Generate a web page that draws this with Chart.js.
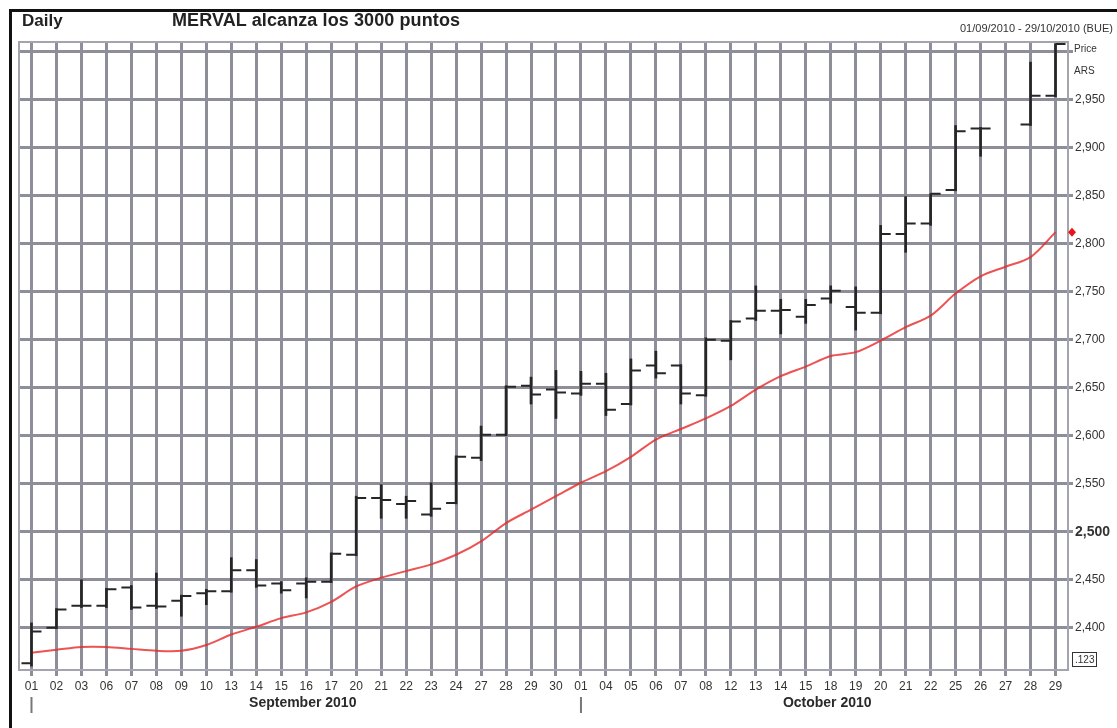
<!DOCTYPE html>
<html>
<head>
<meta charset="utf-8">
<script src="https://cdn.jsdelivr.net/npm/chart.js@4.4.1/dist/chart.umd.min.js"></script>
<style>
  html, body { margin: 0; padding: 0; background: #fff; overflow: hidden; }
  #wrap { position: relative; width: 1117px; height: 728px; overflow: hidden; font-family: 'Liberation Sans', Arial, sans-serif; }
  #frame { position: absolute; left: 9px; top: 9px; right: -5px; bottom: -5px; border-left: 3px solid #111; border-top: 3px solid #111; }
  .txt { position: absolute; white-space: nowrap; color: #222; }
  #daily { left: 22px; top: 11px; font-size: 17px; font-weight: bold; }
  #title { left: 172px; top: 10px; font-size: 18px; font-weight: bold; letter-spacing: 0.1px; }
  #range { left: 960px; top: 22px; font-size: 11px; color: #333; }
  #price { left: 1074px; top: 43px; font-size: 10px; color: #333; }
  #ars { left: 1074px; top: 65px; font-size: 10px; color: #333; }
  #dec { left: 1072px; top: 652px; font-size: 10px; color: #333; border: 1.5px solid #333; padding: 0 2px; line-height: 13px; }
  #chart-box { position: absolute; left: 0; top: 0; width: 1117px; height: 728px; }
</style>
</head>
<body>
<div id="wrap">
  <div id="chart-box"><canvas id="mervalChart"></canvas></div>
  <div id="frame"></div>
  <div class="txt" id="daily">Daily</div>
  <div class="txt" id="title">MERVAL alcanza los 3000 puntos</div>
  <div class="txt" id="range">01/09/2010 - 29/10/2010 (BUE)</div>
  <div class="txt" id="price">Price</div>
  <div class="txt" id="ars">ARS</div>
  <div class="txt" id="dec">.123</div>
</div>
<script>
// trading days, Sept + Oct 2010
const days = ['01','02','03','06','07','08','09','10','13','14','15','16','17','20','21','22','23','24','27','28','29','30',
              '01','04','05','06','07','08','12','13','14','15','18','19','20','21','22','25','26','27','28','29'];
const months = [
    { name: 'September 2010', first: 0, last: 21 },
    { name: 'October 2010', first: 22, last: 41 }
];

// OHLC (27 Oct: no session)
const opens  = [2363,2400,2423,2423,2442,2423,2428,2436,2438,2460,2446,2446,2448,2476,2535,2529,2518,2530,2577,2601,2652,2648,
                2644,2654,2633,2673,2673,2642,2699,2722,2730,2724,2743,2734,2728,2810,2821,2856,2920,null,2924,2954];
const highs  = [2405,2420,2450,2441,2444,2457,2434,2440,2473,2471,2448,2452,2478,2537,2549,2537,2551,2579,2610,2652,2661,2668,
                2667,2665,2680,2688,2674,2702,2720,2756,2742,2742,2756,2755,2819,2849,2852,2923,2921,null,2989,3008];
const lows   = [2360,2399,2421,2421,2419,2420,2412,2424,2437,2442,2436,2431,2447,2475,2514,2514,2516,2529,2574,2600,2633,2618,
                2642,2621,2632,2660,2633,2641,2679,2720,2706,2717,2738,2710,2727,2791,2819,2855,2891,null,2923,2953];
const closes = [2396,2419,2423,2440,2421,2422,2433,2438,2460,2444,2439,2448,2477,2535,2533,2532,2524,2578,2601,2651,2643,2645,
                2654,2627,2668,2665,2644,2700,2719,2730,2731,2736,2751,2728,2810,2821,2852,2917,2920,null,2954,3008];

// red moving average
const movingAvg = [2374,2377,2380,2380,2378,2376,2376,2382,2393,2401,2410,2416,2427,2443,2452,2459,2466,2476,2490,2509,2523,2537,
                   2551,2563,2578,2596,2607,2618,2631,2648,2662,2672,2683,2687,2699,2713,2725,2748,2766,2776,2786,2812];

const yTickValues = [2400,2450,2500,2550,2600,2650,2700,2750,2800,2850,2900,2950,3000];

const gridColor = '#8e8e9b';
const fontFamily = '"Liberation Sans", Arial, sans-serif';

const extras = {
    id: 'extras',
    beforeDatasetsDraw(chart) {
        const { ctx, chartArea: a } = chart;
        ctx.save();
        ctx.strokeStyle = '#a4a4ae';
        ctx.lineWidth = 2;
        ctx.strokeRect(a.left, a.top, a.right - a.left, a.bottom - a.top);
        ctx.restore();
    },
    afterDatasetsDraw(chart) {
        const { ctx, scales: { x, y } } = chart;
        ctx.save();
        ctx.strokeStyle = '#262626';
        ctx.lineWidth = 2;
        ctx.beginPath();
        opens.forEach((o, i) => {
            if (o == null) return;
            const px = x.getPixelForValue(i);
            const po = y.getPixelForValue(o);
            const pc = y.getPixelForValue(closes[i]);
            ctx.moveTo(px - 10, po); ctx.lineTo(px, po);
            ctx.moveTo(px, pc); ctx.lineTo(px + 10, pc);
        });
        ctx.stroke();
        ctx.restore();
    },
    afterDraw(chart) {
        const { ctx, chartArea: a, scales: { x, y } } = chart;
        ctx.save();
        // month captions + markers
        ctx.font = 'bold 14px ' + fontFamily;
        ctx.fillStyle = '#2a2a2a';
        ctx.textAlign = 'center';
        ctx.textBaseline = 'middle';
        ctx.strokeStyle = '#777';
        ctx.lineWidth = 2;
        months.forEach(m => {
            const x0 = x.getPixelForValue(m.first);
            const x1 = x.getPixelForValue(m.last);
            ctx.fillText(m.name, (x0 + x1) / 2 + 9, 703);
            ctx.beginPath();
            ctx.moveTo(x0, 697); ctx.lineTo(x0, 713);
            ctx.stroke();
        });
        // last value marker
        const yv = y.getPixelForValue(movingAvg[movingAvg.length - 1]);
        const dx = a.right + 4;
        ctx.fillStyle = '#e8141b';
        ctx.beginPath();
        ctx.moveTo(dx, yv - 4.5); ctx.lineTo(dx + 4, yv); ctx.lineTo(dx, yv + 4.5); ctx.lineTo(dx - 4, yv);
        ctx.closePath();
        ctx.fill();
        ctx.restore();
    }
};

const ctx = document.getElementById('mervalChart').getContext('2d');

new Chart(ctx, {
    data: {
        labels: days,
        datasets: [
            {
                type: 'line',
                label: 'Average',
                data: movingAvg,
                borderColor: 'rgba(232, 40, 40, 0.8)',
                borderWidth: 2,
                pointRadius: 0,
                tension: 0.3,
                order: 2
            },
            {
                type: 'bar',
                label: 'MERVAL',
                data: highs.map((h, i) => h == null ? null : [lows[i], h]),
                backgroundColor: '#262626',
                barThickness: 2,
                order: 1
            }
        ]
    },
    options: {
        responsive: true,
        maintainAspectRatio: false,
        animation: false,
        layout: { padding: { left: 19, top: 42, right: 0, bottom: 0 } },
        plugins: { legend: { display: false }, tooltip: { enabled: false } },
        scales: {
            x: {
                offset: true,
                grid: { offset: false, color: gridColor, lineWidth: 3, tickLength: 6 },
                border: { display: false },
                ticks: {
                    autoSkip: false,
                    maxRotation: 0,
                    padding: 3,
                    color: '#333',
                    font: { family: fontFamily, size: 12 }
                },
                afterFit: s => { s.height = 58; }
            },
            y: {
                position: 'right',
                min: 2356,
                max: 3010,
                afterBuildTicks: s => { s.ticks = yTickValues.map(v => ({ value: v })); },
                grid: { color: gridColor, lineWidth: 3, tickLength: 5 },
                border: { display: false },
                ticks: {
                    padding: 2,
                    color: '#333',
                    callback: v => v === 3000 ? '' : v.toLocaleString('en-US'),
                    font: c => c.tick && c.tick.value === 2500
                        ? { family: fontFamily, size: 14, weight: 'bold' }
                        : { family: fontFamily, size: 12 }
                },
                afterFit: s => { s.width = 49; }
            }
        }
    },
    plugins: [extras]
});
</script>
</body>
</html>
